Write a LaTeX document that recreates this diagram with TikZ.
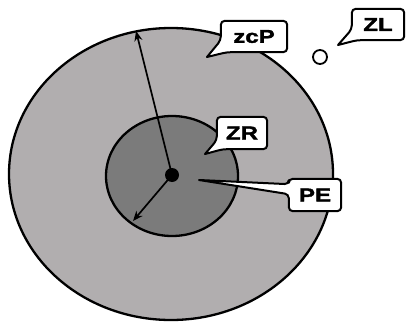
\documentclass[tikz,border=0pt]{standalone}
\usepackage{fontspec}
\usetikzlibrary{arrows.meta,calc}
\newfontfamily\lblfont[FakeBold=2,FakeStretch=1.3]{Liberation Sans Bold}
\definecolor{outergray}{RGB}{177,174,175}
\definecolor{innergray}{RGB}{123,123,123}
\pgfdeclarelayer{zones}
\pgfdeclarelayer{bubbles}
\pgfsetlayers{zones,bubbles,main}
\tikzset{
  zone/.style={draw=black, line width=2.3pt},
  label box/.style={inner sep=0pt, font=\lblfont\fontsize{18.5}{18.5}\selectfont},
  callout line/.style={draw=black, fill=white, line width=2pt, rounded corners=4pt, line join=round, line cap=round},
  radius arrow/.style={draw=black, line width=1.7pt, -{Stealth[length=10pt,width=8pt]}},
}
\begin{document}
\begin{tikzpicture}[x=1pt,y=-1pt]
  \useasboundingbox (0,0) rectangle (406,321);

  % zones
  \begin{pgfonlayer}{zones}
    \draw[zone, fill=outergray] (171,174) ellipse [x radius=162, y radius=146];
    \draw[zone, fill=innergray] (172,176) ellipse [x radius=66, y radius=60];
  \end{pgfonlayer}

  % centre and radii
  \coordinate (outerEdge) at (136,31);
  \coordinate (innerEdge) at (133,221);
  \node[circle, fill=black, inner sep=0pt, minimum size=14pt] (core) at (172,175) {};
  \draw[radius arrow] (core.center) -- (outerEdge);
  \draw[radius arrow] (core.center) -- (innerEdge);

  % labels
  \node[label box, minimum width=66pt, minimum height=31pt] (zcp) at (254,36.5) {zcP};
  \node[label box, minimum width=52pt, minimum height=31pt] (zl) at (378,24.5) {ZL};
  \node[label box, minimum width=50pt, minimum height=32pt] (zr) at (242,133) {ZR};
  \node[label box, minimum width=52pt, minimum height=32pt] (pe) at (315,195) {PE};

  % tail tips
  \coordinate (zcpTip) at (207,57);
  \coordinate (zlTip) at (338,45);
  \coordinate (zrTip) at (205,154);
  \coordinate (peTip) at (199,180);

  % callout outlines, under the label texts
  \begin{pgfonlayer}{bubbles}
    \path[callout line] (zcpTip) -- ($(zcp.south west)+(6pt,0pt)$) -- (zcp.south east) -- (zcp.north east)
          -- (zcp.north west) -- ($(zcp.south west)+(0pt,12pt)$) -- (zcpTip);
    \path[callout line] (zlTip) -- ($(zl.south west)+(5pt,0pt)$) -- (zl.south east) -- (zl.north east)
          -- (zl.north west) -- ($(zl.south west)+(0pt,11pt)$) -- (zlTip);
    \path[callout line] (zrTip) -- ($(zr.south west)+(6pt,0pt)$) -- (zr.south east) -- (zr.north east)
          -- (zr.north west) -- ($(zr.south west)+(0pt,9pt)$) -- (zrTip);
    \path[callout line] (peTip) -- ($(pe.south west)+(0pt,17pt)$) -- (pe.south west) -- (pe.south east)
          -- (pe.north east) -- (pe.north west) -- ($(pe.south west)+(0pt,27pt)$) -- (peTip);
  \end{pgfonlayer}

  % small bubble
  \node[circle, draw=black, line width=1.8pt, fill=white, minimum size=14pt, inner sep=0pt] (bubble) at (320,57) {};
\end{tikzpicture}
\end{document}
